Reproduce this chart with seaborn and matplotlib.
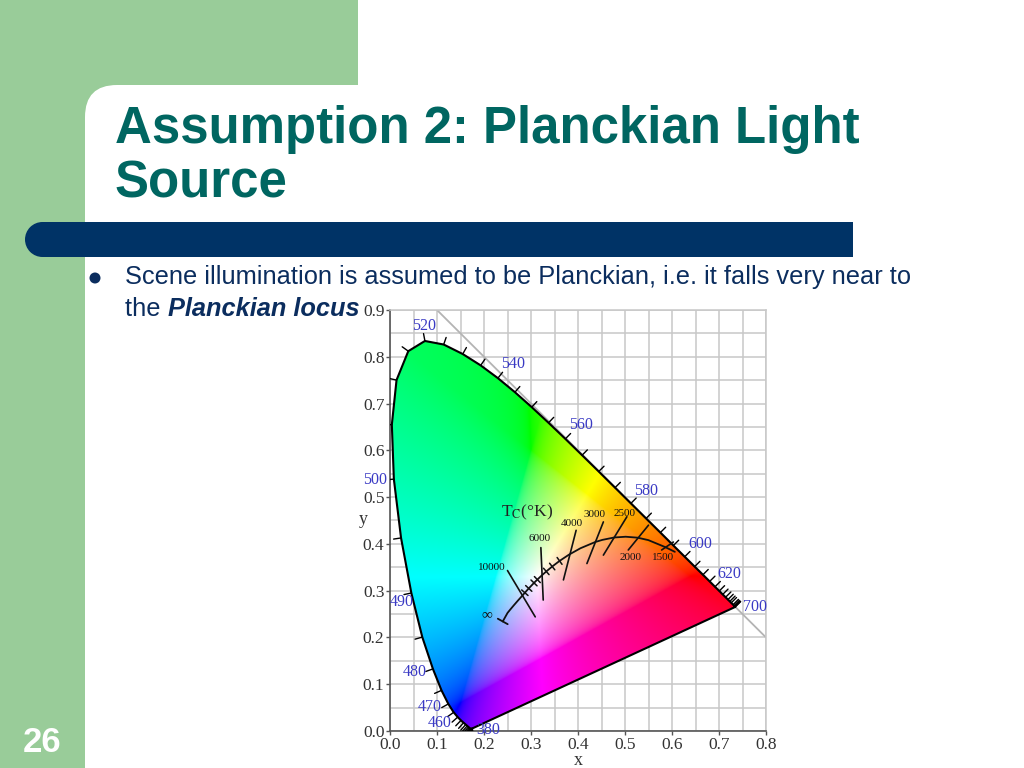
import numpy as np
import matplotlib
matplotlib.use('Agg')
import matplotlib.pyplot as plt
import seaborn as sns
from matplotlib.patches import Rectangle, FancyBboxPatch, Circle, Polygon

# CIE 1931 spectral locus, read along the horseshoe
wl = [380, 385, 390, 395, 400, 405, 410, 415, 420, 425, 430, 435, 440, 445, 450,
      455, 460, 465, 470, 475, 480, 485, 490, 495, 500, 505, 510, 515, 520, 525,
      530, 535, 540, 545, 550, 555, 560, 565, 570, 575, 580, 585, 590, 595, 600,
      605, 610, 615, 620, 625, 630, 635, 640, 645, 650, 660, 670, 680, 690, 700]
wl_x = [0.1741, 0.1740, 0.1738, 0.1736, 0.1733, 0.1730, 0.1726, 0.1721, 0.1714, 0.1703,
        0.1689, 0.1669, 0.1644, 0.1611, 0.1566, 0.1510, 0.1440, 0.1355, 0.1241, 0.1096,
        0.0913, 0.0687, 0.0454, 0.0235, 0.0082, 0.0039, 0.0139, 0.0389, 0.0743, 0.1142,
        0.1547, 0.1929, 0.2296, 0.2658, 0.3016, 0.3373, 0.3731, 0.4087, 0.4441, 0.4788,
        0.5125, 0.5448, 0.5752, 0.6029, 0.6270, 0.6482, 0.6658, 0.6801, 0.6915, 0.7006,
        0.7079, 0.7140, 0.7190, 0.7230, 0.7260, 0.7300, 0.7320, 0.7334, 0.7344, 0.7347]
wl_y = [0.0050, 0.0050, 0.0049, 0.0049, 0.0048, 0.0048, 0.0048, 0.0048, 0.0051, 0.0058,
        0.0069, 0.0086, 0.0109, 0.0138, 0.0177, 0.0227, 0.0297, 0.0399, 0.0578, 0.0868,
        0.1327, 0.2007, 0.2950, 0.4127, 0.5384, 0.6548, 0.7502, 0.8120, 0.8338, 0.8262,
        0.8059, 0.7816, 0.7543, 0.7243, 0.6923, 0.6589, 0.6245, 0.5896, 0.5547, 0.5202,
        0.4866, 0.4544, 0.4242, 0.3965, 0.3725, 0.3514, 0.3340, 0.3197, 0.3083, 0.2993,
        0.2920, 0.2859, 0.2809, 0.2770, 0.2740, 0.2700, 0.2680, 0.2666, 0.2656, 0.2653]

label_nm = ['380', '460', '470', '480', '490', '500', '520', '540', '560', '580', '600', '620', '700']
label_x = [0.209, 0.106, 0.085, 0.053, 0.024, -0.032, 0.073, 0.261, 0.407, 0.545, 0.661, 0.723, 0.776]
label_y = [0.003, 0.017, 0.051, 0.126, 0.276, 0.536, 0.865, 0.784, 0.654, 0.513, 0.400, 0.336, 0.265]

# Planckian locus, from infinity down to ~1400 K
pl_temp = [np.inf, 30000, 20000, 15000, 12000, 10000, 9000, 8000, 7000, 6500, 6000,
           5500, 5000, 4500, 4000, 3500, 3000, 2800, 2500, 2200, 2000, 1800, 1500, 1400]
pl_x = [0.2399, 0.2501, 0.2565, 0.2637, 0.2719, 0.2807, 0.2869, 0.2952, 0.3064, 0.3135, 0.3221,
        0.3325, 0.3451, 0.3608, 0.3805, 0.4053, 0.4369, 0.4520, 0.4770, 0.5015, 0.5267, 0.5496, 0.5857, 0.6060]
pl_y = [0.2342, 0.2525, 0.2604, 0.2690, 0.2785, 0.2884, 0.2956, 0.3048, 0.3166, 0.3237, 0.3318,
        0.3411, 0.3516, 0.3636, 0.3768, 0.3907, 0.4041, 0.4086, 0.4137, 0.4153, 0.4133, 0.4081, 0.3931, 0.3830]
minor_temp = [9000, 8000, 7000, 6500, 5500, 5000, 4500]

# isotemperature lines (end points) and their labels
iso_temp = ['10000', '6000', '4000', '3000', '2500', '2000', '1500']
iso_x0 = [0.250, 0.321, 0.396, 0.454, 0.504, 0.550, 0.603]
iso_y0 = [0.343, 0.392, 0.429, 0.447, 0.458, 0.440, 0.404]
iso_x1 = [0.309, 0.326, 0.369, 0.419, 0.454, 0.507, 0.578]
iso_y1 = [0.244, 0.280, 0.323, 0.358, 0.376, 0.387, 0.387]
iso_lab_x = [0.216, 0.318, 0.387, 0.436, 0.500, 0.511, 0.580]
iso_lab_y = [0.350, 0.412, 0.444, 0.462, 0.466, 0.370, 0.370]

sns.set_style('white')
plt.rcParams['font.family'] = ['Liberation Serif', 'DejaVu Serif']
plt.rcParams['mathtext.fontset'] = 'stix'

fig = plt.figure(figsize=(10.24, 7.68), dpi=100)

# ---- slide background ----
bg = fig.add_axes([0, 0, 1, 1], zorder=0)
bg.set_xlim(0, 1024)
bg.set_ylim(768, 0)
bg.axis('off')
green = '#99cc99'
bg.add_patch(Rectangle((0, 0), 358, 130, color=green, lw=0))
bg.add_patch(Rectangle((0, 0), 130, 768, color=green, lw=0))
bg.add_patch(FancyBboxPatch((85, 85), 1200, 1200, boxstyle='round,pad=0,rounding_size=32',
                            fc='white', ec='none'))
navy = '#003366'
bg.add_patch(Circle((42.5, 239.5), 17.5, color=navy, lw=0))
bg.add_patch(Rectangle((42.5, 222), 853 - 42.5, 35, color=navy, lw=0))

sans = ['Liberation Sans', 'DejaVu Sans']
teal = '#006661'
bg.text(115, 143, 'Assumption 2: Planckian Light', fontsize=36.7, fontweight='bold',
        color=teal, family=sans)
bg.text(115, 197, 'Source', fontsize=36.7, fontweight='bold', color=teal, family=sans)

txt = '#0b2d5e'
bg.add_patch(Circle((95, 278), 5.5, color=txt, lw=0))
bg.text(125, 284, 'Scene illumination is assumed to be Planckian, i.e. it falls very near to',
        fontsize=18.3, color=txt, family=sans)
t1 = bg.text(125, 316, 'the ', fontsize=18.3, color=txt, family=sans)
bg.annotate('Planckian locus', xy=(1, 0), xycoords=t1, va='bottom', ha='left',
            fontsize=18.3, color=txt, family=sans, fontweight='bold', fontstyle='italic')
bg.text(42, 752, '26', fontsize=25, fontweight='bold', color='white', family=sans, ha='center')

# white box behind the diagram (hides the end of the bullet text)
bg.add_patch(Rectangle((361, 301), 420, 470, color='white', lw=0, zorder=5))

# ---- chromaticity diagram ----
ax = fig.add_axes([390 / 1024, 37 / 768, 376 / 1024, 421 / 768], zorder=2)
ax.set_xlim(0, 0.8)
ax.set_ylim(0, 0.9)
ax.set_xticks(np.arange(0, 0.81, 0.1))
ax.set_yticks(np.arange(0, 0.91, 0.1))
ax.set_xticks(np.arange(0.05, 0.8, 0.1), minor=True)
ax.set_yticks(np.arange(0.05, 0.9, 0.1), minor=True)
ax.set_xticklabels(['%.1f' % v for v in np.arange(0, 0.81, 0.1)])
ax.set_yticklabels(['%.1f' % v for v in np.arange(0, 0.91, 0.1)])
ax.grid(which='both', color='#c8c8c8', lw=1.1)
ax.set_axisbelow(True)
ax.tick_params(which='major', length=3, width=1, color='#555555', pad=1,
               labelsize=12.5, labelcolor='#333333', left=True, bottom=True)
ax.tick_params(which='minor', length=0)
for s in ['left', 'bottom']:
    ax.spines[s].set_color('#555555')
    ax.spines[s].set_linewidth(1.2)
for s in ['top', 'right']:
    ax.spines[s].set_color('#c8c8c8')
    ax.spines[s].set_linewidth(1.1)
ax.set_xlabel('x', fontsize=13, color='#333333')
ax.set_ylabel('y', fontsize=13, color='#333333', rotation=0, va='center', ha='center')
ax.xaxis.set_label_coords(0.5, -0.05)
ax.yaxis.set_label_coords(-0.072, 0.503)

# x + y = 1 line
ax.plot([0.1, 0.8], [0.9, 0.2], color='#b4b4b4', lw=1.3, zorder=1)

# colour fill of the gamut
gx, gy = np.meshgrid(np.linspace(0, 0.8, 480), np.linspace(0.002, 0.9, 540))
XYZ = np.stack([gx / gy, np.ones_like(gx), (1 - gx - gy) / gy], axis=-1)
M = np.array([[3.2406, -1.5372, -0.4986], [-0.9689, 1.8758, 0.0415], [0.0557, -0.2040, 1.0570]])
lin = XYZ @ M.T
clip = np.clip(lin, 0, None)
clip = clip / clip.max(axis=-1, keepdims=True)
shift = lin - np.minimum(lin.min(axis=-1, keepdims=True), 0)
shift = shift / shift.max(axis=-1, keepdims=True)
rgb = np.clip(0.75 * clip + 0.25 * shift, 0, 1)
rgb = np.where(rgb <= 0.0031308, 12.92 * rgb, 1.055 * rgb ** (1 / 2.4) - 0.055)
im = ax.imshow(rgb, extent=(0, 0.8, 0.002, 0.9), origin='lower', aspect='auto',
               interpolation='bilinear', zorder=2)
gamut = Polygon(np.column_stack([wl_x, wl_y]), closed=True, transform=ax.transData)
im.set_clip_path(gamut)

# spectral locus and line of purples
sns.lineplot(x=wl_x + [wl_x[0]], y=wl_y + [wl_y[0]], sort=False, estimator=None,
             color='black', lw=1.5, ax=ax, zorder=4)

# wavelength ticks (outward normals)
px, py = np.array(wl_x), np.array(wl_y)
tx, ty = np.gradient(px), np.gradient(py)
nrm = np.hypot(tx, ty)
nx, ny = -ty / nrm, tx / nrm
tl = 0.016
for i in range(len(wl)):
    ax.plot([px[i], px[i] + tl * nx[i]], [py[i], py[i] + tl * ny[i]], color='black', lw=1, zorder=4)

blue = '#3a3ac4'
for s, x, y in zip(label_nm, label_x, label_y):
    ax.text(x, y, s, color=blue, fontsize=11.5, ha='center', va='center', zorder=6, clip_on=False)

# Planckian locus
sns.lineplot(x=pl_x, y=pl_y, sort=False, estimator=None, color='#111111', lw=1.3, ax=ax, zorder=5)
qx, qy = np.array(pl_x), np.array(pl_y)
dx, dy = np.gradient(qx), np.gradient(qy)
dn = np.hypot(dx, dy)
ux, uy = dy / dn, -dx / dn
cap = 0.012
ax.plot([qx[0] - cap * ux[0], qx[0] + cap * ux[0]], [qy[0] - cap * uy[0], qy[0] + cap * uy[0]],
        color='#111111', lw=1.3, zorder=5)
mt = 0.009
for T in minor_temp:
    i = pl_temp.index(T)
    ax.plot([qx[i] - mt * ux[i], qx[i] + mt * ux[i]], [qy[i] - mt * uy[i], qy[i] + mt * uy[i]],
            color='#111111', lw=1.1, zorder=5)

for s, x0, y0, x1, y1, lx, ly in zip(iso_temp, iso_x0, iso_y0, iso_x1, iso_y1, iso_lab_x, iso_lab_y):
    ax.plot([x0, x1], [y0, y1], color='#111111', lw=1.2, zorder=5)
    ax.text(lx, ly, s, fontsize=8, ha='center', va='center', color='#111111', zorder=6)

ax.text(0.206, 0.248, '∞', fontsize=11, ha='center', va='center', color='#111111', zorder=6)
ax.text(0.291, 0.468, r'T$_\mathrm{C}$(°K)', fontsize=12.5, ha='center', va='center',
        color='#222222', zorder=6)

fig.savefig('out.png', dpi=100)
